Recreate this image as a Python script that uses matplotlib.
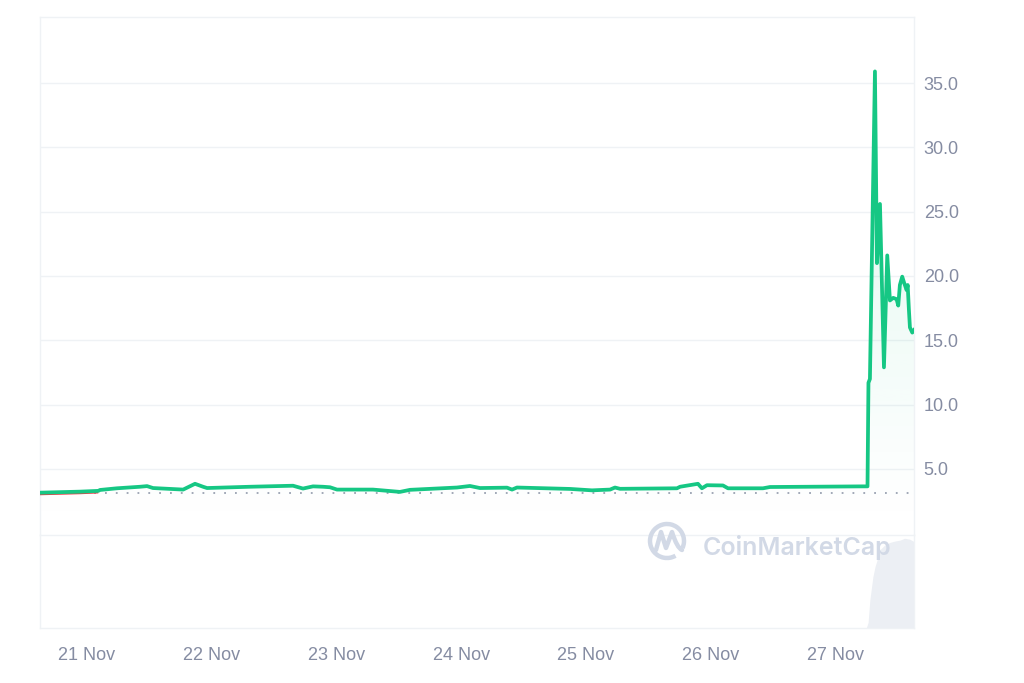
import numpy as np
import pandas as pd
import matplotlib
matplotlib.use("Agg")
import matplotlib.pyplot as plt
import matplotlib.dates as mdates
from matplotlib.patches import Arc, Polygon
from matplotlib.path import Path
from matplotlib.patches import PathPatch
import matplotlib.transforms as mtransforms

# ---------------- data ----------------
price_times = [
    "2023-11-20 14:57", "2023-11-20 22:40", "2023-11-21 02:10", "2023-11-21 02:30",
    "2023-11-21 05:45", "2023-11-21 10:12", "2023-11-21 11:33", "2023-11-21 12:42",
    "2023-11-21 18:30", "2023-11-21 20:47", "2023-11-21 22:20", "2023-11-21 23:06",
    "2023-11-22 07:22", "2023-11-22 15:39", "2023-11-22 17:34", "2023-11-22 19:30",
    "2023-11-22 21:25", "2023-11-22 22:46", "2023-11-23 00:07", "2023-11-23 07:02",
    "2023-11-23 12:14", "2023-11-23 14:10", "2023-11-23 23:12", "2023-11-24 01:42",
    "2023-11-24 03:38", "2023-11-24 08:50", "2023-11-24 09:48", "2023-11-24 10:45",
    "2023-11-24 21:00", "2023-11-24 22:53", "2023-11-25 01:12", "2023-11-25 04:40",
    "2023-11-25 05:37", "2023-11-25 06:35", "2023-11-25 17:33", "2023-11-25 18:08",
    "2023-11-25 21:35", "2023-11-25 22:21", "2023-11-25 23:19", "2023-11-26 02:24",
    "2023-11-26 03:22", "2023-11-26 10:06", "2023-11-26 11:27", "2023-11-27 05:21",
    "2023-11-27 06:13", "2023-11-27 06:24", "2023-11-27 06:41", "2023-11-27 07:39",
    "2023-11-27 08:02", "2023-11-27 08:37", "2023-11-27 09:23", "2023-11-27 10:01",
    "2023-11-27 10:32", "2023-11-27 11:10", "2023-11-27 11:49", "2023-11-27 12:08",
    "2023-11-27 12:27", "2023-11-27 12:54", "2023-11-27 13:17", "2023-11-27 13:45",
    "2023-11-27 13:57", "2023-11-27 14:11", "2023-11-27 14:23", "2023-11-27 14:50",
    "2023-11-27 15:10",
]
price_values = [
    3.16, 3.24, 3.30, 3.37,
    3.50, 3.62, 3.67, 3.52,
    3.40, 3.85, 3.62, 3.52,
    3.62, 3.70, 3.48, 3.65,
    3.62, 3.58, 3.40, 3.40,
    3.22, 3.38, 3.56, 3.68,
    3.52, 3.55, 3.40, 3.56,
    3.45, 3.40, 3.34, 3.40,
    3.56, 3.46, 3.50, 3.62,
    3.85, 3.50, 3.74, 3.72,
    3.50, 3.50, 3.60, 3.65,
    3.65, 11.7, 12.0, 35.9,
    21.0, 25.6, 12.9, 21.6,
    18.1, 18.3, 18.2, 17.7,
    19.3, 19.95, 19.45, 18.9,
    19.3, 17.4, 16.0, 15.6,
    15.8,
]
red_until = "2023-11-21 02:10"
ref_price = 3.13

volume_times = [
    "2023-11-20 14:57", "2023-11-24 00:00", "2023-11-27 06:00", "2023-11-27 06:20",
    "2023-11-27 06:40", "2023-11-27 07:15", "2023-11-27 07:40", "2023-11-27 08:00",
    "2023-11-27 08:35", "2023-11-27 09:30", "2023-11-27 10:30", "2023-11-27 11:30",
    "2023-11-27 12:30", "2023-11-27 13:20", "2023-11-27 14:20", "2023-11-27 15:10",
]
volume_values = [
    0.3, 0.3, 0.4, 6.0,
    30.0, 55.0, 66.0, 72.0,
    84.0, 89.0, 92.0, 93.5,
    94.5, 96.5, 95.5, 93.0,
]

y_ticks = [5.0, 10.0, 15.0, 20.0, 25.0, 30.0, 35.0]
x_tick_dates = ["2023-11-21", "2023-11-22", "2023-11-23", "2023-11-24",
                "2023-11-25", "2023-11-26", "2023-11-27"]
x_tick_labels = ["21 Nov", "22 Nov", "23 Nov", "24 Nov", "25 Nov", "26 Nov", "27 Nov"]

# ---------------- style ----------------
GREEN = "#16c784"
RED = "#ea3943"
GRID = "#eff2f5"
LABEL = "#858ca2"
VOL = "#eceff4"
plt.rcParams["font.family"] = ["Liberation Sans", "DejaVu Sans"]

t = pd.to_datetime(price_times)
tn = mdates.date2num(t)
p = np.array(price_values)
vt = mdates.date2num(pd.to_datetime(volume_times))
vv = np.array(volume_values)

W, H = 1024, 683
fig = plt.figure(figsize=(W / 100, H / 100), dpi=100)
fig.patch.set_facecolor("white")

L, R = 40 / W, 914 / W
ax = fig.add_axes([L, (H - 535) / H, R - L, (535 - 17) / H])
axv = fig.add_axes([L, (H - 628) / H, R - L, (628 - 535) / H], sharex=ax)

# price panel
ax.set_xlim(tn[0], tn[-1])
ax.set_ylim(-0.13, 40.13)
for g in np.arange(5, 40, 5):
    ax.axhline(g, color=GRID, lw=1.0, zorder=0)
for s in ax.spines.values():
    s.set_color(GRID)
    s.set_linewidth(1.0)
ax.spines["bottom"].set_visible(False)

# gradient fill under line
poly_xy = np.column_stack([np.r_[tn[0], tn, tn[-1]], np.r_[0, p, 0]])
clip = Polygon(poly_xy, closed=True, facecolor="none", edgecolor="none",
               transform=ax.transData)
ax.add_patch(clip)
grad = np.linspace(0, 1, 256).reshape(-1, 1)
rgba = np.zeros((256, 1, 4))
rgba[..., 0] = 0x16 / 255
rgba[..., 1] = 0xc7 / 255
rgba[..., 2] = 0x84 / 255
rgba[..., 3] = 0.16 * grad[::-1] ** 1.2
im = ax.imshow(rgba, extent=[tn[0], tn[-1], 0, 36], aspect="auto",
               origin="upper", zorder=1, interpolation="bilinear")
im.set_clip_path(clip)

# reference dotted line
ax.axhline(ref_price, color="#9aa1b1", lw=1.3, linestyle=(0, (1, 5)), zorder=2)

# red start segment (slightly below) and green line
red_mask = t <= pd.to_datetime(red_until)
off = mtransforms.offset_copy(ax.transData, fig=fig, x=0, y=-1.2, units="dots")
ax.plot(tn[red_mask], p[red_mask], color=RED, lw=2.0, zorder=3, transform=off,
        solid_capstyle="butt")
ax.plot(tn, p, color=GREEN, lw=2.7, zorder=4, solid_joinstyle="round")

ax.yaxis.tick_right()
ax.set_yticks(y_ticks)
ax.set_yticklabels([f"{v:.1f}" for v in y_ticks])
ax.tick_params(axis="y", length=0, pad=7, labelsize=13, labelcolor=LABEL)
ax.tick_params(axis="x", length=0, labelbottom=False)

# volume panel
axv.set_ylim(0, 100)
axv.fill_between(vt, 0, vv, color=VOL, lw=0, zorder=1)
for s in axv.spines.values():
    s.set_color(GRID)
    s.set_linewidth(1.0)
axv.set_yticks([])
axv.set_xticks(mdates.date2num(pd.to_datetime(x_tick_dates)))
axv.set_xticklabels(x_tick_labels)
axv.tick_params(axis="x", length=0, pad=14, labelsize=13, labelcolor=LABEL)

# watermark
WM = "#d2d9e6"
fig.text(703 / W, 1 - 547 / H, "CoinMarketCap", color=WM, fontsize=18,
         fontweight="semibold", family=["Inter", "DejaVu Sans"],
         ha="left", va="center", zorder=10)
cx, cy, r = 667, 541, 17
arc = Arc((cx, H - cy), 2 * r, 2 * r, theta1=-25, theta2=300,
          transform=None, color=WM, lw=3.2, zorder=10)
fig.add_artist(arc)
verts = [(656, 550), (661, 532), (666, 548), (672, 532), (677, 548), (682, 550)]
codes = [Path.MOVETO, Path.LINETO, Path.LINETO, Path.LINETO, Path.CURVE3, Path.CURVE3]
m_path = Path([(x, H - y) for x, y in verts], codes)
fig.add_artist(PathPatch(m_path, transform=None, facecolor="none", edgecolor=WM,
                         lw=3.2, capstyle="round", joinstyle="round", zorder=10))

fig.savefig("out.png", dpi=100, facecolor="white")
